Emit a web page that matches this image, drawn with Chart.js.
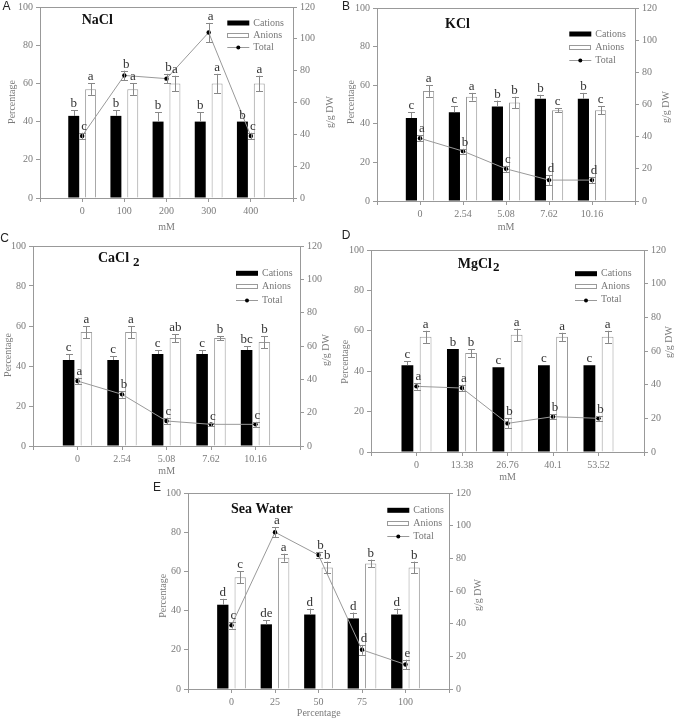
<!DOCTYPE html>
<html><head><meta charset="utf-8">
<script src="https://cdn.jsdelivr.net/npm/chart.js@4.4.1/dist/chart.umd.min.js"></script>
<style>
html,body{margin:0;padding:0;background:#fff;width:674px;height:720px;overflow:hidden;position:relative}
canvas{position:absolute}
</style></head><body>
<script>
// ---------- tick labels ----------
const yTicks = [0, 20, 40, 60, 80, 100];
const y2Ticks = [0, 20, 40, 60, 80, 100, 120];

// ---------- A: NaCl ----------
const naclDoses = ['0', '100', '200', '300', '400'];
const naclCations = [43, 43, 40, 40, 40];
const naclCationsErr = [3, 3, 5, 5, 0];
const naclAnions = [57, 57, 60, 60, 60];
const naclAnionsErr = [3, 3, 4, 5, 4];
const naclTotal = [39, 77, 75, 104, 39];
const naclTotalErr = [2, 3, 3, 6, 2];
const naclCationLetters = ['b', 'b', 'b', 'b', 'b'];
const naclAnionLetters = ['a', 'a', 'a', 'a', 'a'];
const naclTotalLetters = ['c', 'b', 'b', 'a', 'c'];

// ---------- B: KCl ----------
const kclDoses = ['0', '2.54', '5.08', '7.62', '10.16'];
const kclCations = [43, 46, 49, 53, 53];
const kclCationsErr = [3, 3, 3, 2, 3];
const kclAnions = [57, 54, 51, 47, 47];
const kclAnionsErr = [3, 2, 3, 1, 2];
const kclTotal = [39, 31, 20, 13, 13];
const kclTotalErr = [2, 1.5, 2, 3, 2];
const kclCationLetters = ['c', 'c', 'b', 'b', 'b'];
const kclAnionLetters = ['a', 'a', 'b', 'c', 'c'];
const kclTotalLetters = ['a', 'b', 'c', 'd', 'd'];

// ---------- C: CaCl2 ----------
const cacl2Doses = ['0', '2.54', '5.08', '7.62', '10.16'];
const cacl2Cations = [43, 43, 46, 46, 48];
const cacl2CationsErr = [3, 2, 2, 2, 2];
const cacl2Anions = [57, 57, 54, 54, 52];
const cacl2AnionsErr = [3, 3, 2, 1, 3];
const cacl2Total = [39, 31, 15, 13, 13];
const cacl2TotalErr = [2, 2, 2, 1, 1.5];
const cacl2CationLetters = ['c', 'c', 'c', 'c', 'bc'];
const cacl2AnionLetters = ['a', 'a', 'ab', 'b', 'b'];
const cacl2TotalLetters = ['a', 'b', 'c', 'c', 'c'];

// ---------- D: MgCl2 ----------
const mgcl2Doses = ['0', '13.38', '26.76', '40.1', '53.52'];
const mgcl2Cations = [43, 51, 42, 43, 43];
const mgcl2CationsErr = [2, 0, 0, 0, 0];
const mgcl2Anions = [57, 49, 58, 57, 57];
const mgcl2AnionsErr = [3, 2, 3, 2, 3];
const mgcl2Total = [39, 38, 17, 21, 20];
const mgcl2TotalErr = [2, 2, 3, 1.5, 1.5];
const mgcl2CationLetters = ['c', 'b', 'c', 'c', 'c'];
const mgcl2AnionLetters = ['a', 'b', 'a', 'a', 'a'];
const mgcl2TotalLetters = ['a', 'a', 'b', 'b', 'b'];

// ---------- E: Sea Water ----------
const seaDoses = ['0', '25', '50', '75', '100'];
const seaCations = [43, 33, 38, 36, 38];
const seaCationsErr = [3, 2, 3, 3, 3];
const seaAnions = [57, 67, 62, 64, 62];
const seaAnionsErr = [3, 2, 3, 2, 3];
const seaTotal = [39, 96, 82, 24, 15];
const seaTotalErr = [2, 3, 2, 3, 3];
const seaCationLetters = ['d', 'de', 'd', 'd', 'd'];
const seaAnionLetters = ['c', 'a', 'b', 'b', 'b'];
const seaTotalLetters = ['c', 'a', 'b', 'd', 'e'];

// ---------- styling / layout ----------
const SERIF = "'Liberation Serif', 'Times New Roman', serif";
const SANS = "'Liberation Sans', Arial, sans-serif";
const AXIS = '#999999';
const TICK_TXT = '#7a7a7a';
const LEG_TXT = '#777777';
const LETTER = '#333333';
const ERR = '#888888';
const PADL = 45, PADR = 45, PADT = 22, PADB = 40;

const panels = [
  { tag: 'A', name: 'NaCl', sub: '', subGap: 0, xTitle: 'mM', doses: naclDoses,
    cat: naclCations, catErr: naclCationsErr, an: naclAnions, anErr: naclAnionsErr,
    tot: naclTotal, totErr: naclTotalErr, catLet: naclCationLetters, anLet: naclAnionLetters, totLet: naclTotalLetters,
    box: [40, 7, 293, 198], letter: [6.5, 7], title: [81.7, 20], legend: [227.3, 23, 12],
    yTitle: [12, 102], y2Title: [330, 112], xT: [166.5, 227] },
  { tag: 'B', name: 'KCl', sub: '', subGap: 0, xTitle: 'mM', doses: kclDoses,
    cat: kclCations, catErr: kclCationsErr, an: kclAnions, anErr: kclAnionsErr,
    tot: kclTotal, totErr: kclTotalErr, catLet: kclCationLetters, anLet: kclAnionLetters, totLet: kclTotalLetters,
    box: [377, 8, 635, 201], letter: [346, 6.5], title: [445, 24], legend: [569.3, 34, 13],
    yTitle: [351.7, 102], y2Title: [666.7, 107], xT: [506, 227.7] },
  { tag: 'C', name: 'CaCl', sub: '2', subGap: 4, xTitle: 'mM', doses: cacl2Doses,
    cat: cacl2Cations, catErr: cacl2CationsErr, an: cacl2Anions, anErr: cacl2AnionsErr,
    tot: cacl2Total, totErr: cacl2TotalErr, catLet: cacl2CationLetters, anLet: cacl2AnionLetters, totLet: cacl2TotalLetters,
    box: [33, 246, 300, 446], letter: [4.5, 238.7], title: [98, 258.3], legend: [236, 273.3, 13.3],
    yTitle: [8.3, 355], y2Title: [326.7, 350], xT: [166.7, 471] },
  { tag: 'D', name: 'MgCl', sub: '2', subGap: 1, xTitle: 'mM', doses: mgcl2Doses,
    cat: mgcl2Cations, catErr: mgcl2CationsErr, an: mgcl2Anions, anErr: mgcl2AnionsErr,
    tot: mgcl2Total, totErr: mgcl2TotalErr, catLet: mgcl2CationLetters, anLet: mgcl2AnionLetters, totLet: mgcl2TotalLetters,
    box: [371, 250, 644, 452], letter: [346, 236], title: [457.7, 264], legend: [575, 273.7, 13],
    yTitle: [345, 361.7], y2Title: [669, 342], xT: [507.5, 477] },
  { tag: 'E', name: 'Sea Water', sub: '', subGap: 0, xTitle: 'Percentage', doses: seaDoses,
    cat: seaCations, catErr: seaCationsErr, an: seaAnions, anErr: seaAnionsErr,
    tot: seaTotal, totErr: seaTotalErr, catLet: seaCationLetters, anLet: seaAnionLetters, totLet: seaTotalLetters,
    box: [188, 493, 449, 689], letter: [157, 487.5], title: [231, 509], legend: [387.3, 510.3, 13],
    yTitle: [163.3, 595.8], y2Title: [478, 595], xT: [318.8, 713.3] }
];

function pad(arr) { return [null].concat(arr, [null]); }

function makeDecor(p) {
  const ox = p.box[0] - PADL, oy = p.box[1] - PADT;
  const X = v => v - ox, Y = v => v - oy;
  return {
    id: 'decor' + p.tag,
    afterDatasetsDraw(chart) {
      const ctx = chart.ctx;
      const ca = chart.chartArea;
      const ys = chart.scales.y, y2s = chart.scales.y2;
      ctx.save();
      // top frame line
      ctx.strokeStyle = AXIS; ctx.lineWidth = 1;
      ctx.beginPath(); ctx.moveTo(ca.left, Math.round(ca.top) + 0.5); ctx.lineTo(ca.right, Math.round(ca.top) + 0.5); ctx.stroke();

      // error bars and letters
      const series = [
        { idx: 0, vals: p.cat, err: p.catErr, lets: p.catLet, sc: ys, down: false, dx: 0 },
        { idx: 1, vals: p.an, err: p.anErr, lets: p.anLet, sc: ys, down: true, dx: 0 },
        { idx: 2, vals: p.tot, err: p.totErr, lets: p.totLet, sc: y2s, down: true, dx: 2 }
      ];
      series.forEach(s => {
        const meta = chart.getDatasetMeta(s.idx);
        s.vals.forEach((v, j) => {
          const el = meta.data[j + 1];
          if (!el) return;
          const x = el.x;
          const yTop = s.sc.getPixelForValue(v + s.err[j]);
          const yBot = s.down ? s.sc.getPixelForValue(v - s.err[j]) : s.sc.getPixelForValue(v);
          if (s.err[j] > 0) {
            ctx.strokeStyle = ERR; ctx.lineWidth = 1;
            ctx.beginPath();
            const xx = Math.round(x) + 0.5;
            ctx.moveTo(xx, yTop); ctx.lineTo(xx, yBot);
            ctx.moveTo(xx - 3.5, Math.round(yTop) + 0.5); ctx.lineTo(xx + 3.5, Math.round(yTop) + 0.5);
            if (s.down) { ctx.moveTo(xx - 3.5, Math.round(yBot) + 0.5); ctx.lineTo(xx + 3.5, Math.round(yBot) + 0.5); }
            ctx.stroke();
          }
          ctx.fillStyle = LETTER;
          ctx.font = '13px ' + SERIF;
          ctx.textAlign = 'center'; ctx.textBaseline = 'alphabetic';
          ctx.fillText(s.lets[j], x + s.dx, Math.min(yTop, s.sc.getPixelForValue(v)) - 3);
        });
      });

      // legend
      const [lx, ly, ls] = p.legend;
      ctx.fillStyle = '#000';
      ctx.fillRect(X(lx), Y(ly) - 2.5, 22, 5);
      ctx.strokeStyle = '#9a9a9a'; ctx.lineWidth = 1;
      ctx.strokeRect(Math.round(X(lx)) + 0.5, Math.round(Y(ly + ls) - 2.5) + 0.5, 21, 4);
      ctx.strokeStyle = '#999'; ctx.beginPath();
      ctx.moveTo(X(lx), Math.round(Y(ly + 2 * ls)) + 0.5); ctx.lineTo(X(lx) + 22, Math.round(Y(ly + 2 * ls)) + 0.5); ctx.stroke();
      ctx.fillStyle = '#000'; ctx.beginPath(); ctx.arc(X(lx) + 11, Math.round(Y(ly + 2 * ls)) + 0.5, 2, 0, Math.PI * 2); ctx.fill();
      ctx.fillStyle = LEG_TXT; ctx.font = '10px ' + SERIF; ctx.textAlign = 'left'; ctx.textBaseline = 'middle';
      ctx.fillText('Cations', X(lx) + 26, Y(ly));
      ctx.fillText('Anions', X(lx) + 26, Y(ly + ls));
      ctx.fillText('Total', X(lx) + 26, Y(ly + 2 * ls));

      // title
      ctx.fillStyle = '#111'; ctx.font = 'bold 14px ' + SERIF; ctx.textAlign = 'left'; ctx.textBaseline = 'middle';
      ctx.fillText(p.name, X(p.title[0]), Y(p.title[1]));
      if (p.sub) {
        const w = ctx.measureText(p.name).width;
        ctx.font = 'bold 13px ' + SERIF;
        ctx.fillText(p.sub, X(p.title[0]) + w + p.subGap, Y(p.title[1]) + 4);
      }

      // panel letter
      ctx.fillStyle = '#222'; ctx.font = '12px ' + SANS; ctx.textAlign = 'center'; ctx.textBaseline = 'middle';
      ctx.fillText(p.tag, X(p.letter[0]), Y(p.letter[1]));

      // axis titles
      ctx.fillStyle = TICK_TXT; ctx.font = '10px ' + SERIF;
      ctx.fillText(p.xTitle, X(p.xT[0]), Y(p.xT[1]));
      ctx.save(); ctx.translate(X(p.yTitle[0]), Y(p.yTitle[1])); ctx.rotate(-Math.PI / 2);
      ctx.fillText('Percentage', 0, 0); ctx.restore();
      ctx.save(); ctx.translate(X(p.y2Title[0]), Y(p.y2Title[1])); ctx.rotate(-Math.PI / 2);
      ctx.fillText('g/g DW', 0, 0); ctx.restore();

      ctx.restore();
    }
  };
}

function axisCommon() {
  return {
    grid: { display: true, drawOnChartArea: false, drawTicks: true, tickLength: 4, color: AXIS, offset: false },
    border: { display: true, color: AXIS, width: 1 },
    ticks: { color: TICK_TXT, font: { family: SERIF, size: 10 }, padding: 3 }
  };
}

panels.forEach(p => {
  const [L, T, R, B] = p.box;
  const cv = document.createElement('canvas');
  const W = R - L + PADL + PADR, H = B - T + PADT + PADB;
  cv.width = W; cv.height = H;
  cv.style.left = (L - PADL) + 'px'; cv.style.top = (T - PADT) + 'px';
  cv.style.width = W + 'px'; cv.style.height = H + 'px';
  document.body.appendChild(cv);

  const xa = axisCommon();
  const ya = axisCommon();
  const y2a = axisCommon();

  new Chart(cv.getContext('2d'), {
    type: 'bar',
    data: {
      labels: [''].concat(p.doses, ['']),
      datasets: [
        { label: 'Cations', data: pad(p.cat), backgroundColor: '#000', borderWidth: 0, order: 1,
          categoryPercentage: 0.8, barPercentage: 0.65, yAxisID: 'y' },
        { label: 'Anions', data: pad(p.an), backgroundColor: '#fff', borderColor: '#9a9a9a', borderWidth: 1, order: 1,
          categoryPercentage: 0.8, barPercentage: 0.65, yAxisID: 'y' },
        { type: 'line', label: 'Total', data: pad(p.tot), yAxisID: 'y2', order: 0,
          borderColor: '#999', borderWidth: 1, tension: 0, fill: false,
          pointRadius: 2.2, pointBackgroundColor: '#000', pointBorderColor: '#000', pointBorderWidth: 0 }
      ]
    },
    options: {
      responsive: false, animation: false, devicePixelRatio: 1,
      layout: { padding: { top: PADT, left: 0, right: 0, bottom: 0 } },
      plugins: { legend: { display: false }, tooltip: { enabled: false }, title: { display: false } },
      scales: {
        x: Object.assign(xa, { type: 'category', offset: false,
          ticks: Object.assign(xa.ticks, { autoSkip: false, maxRotation: 0, minRotation: 0, padding: 3 }),
          afterFit: s => { s.height = PADB; } }),
        y: Object.assign(ya, { type: 'linear', position: 'left', min: 0, max: 100,
          afterBuildTicks: s => { s.ticks = yTicks.map(v => ({ value: v })); },
          afterFit: s => { s.width = PADL; } }),
        y2: Object.assign(y2a, { type: 'linear', position: 'right', min: 0, max: 120,
          afterBuildTicks: s => { s.ticks = y2Ticks.map(v => ({ value: v })); },
          afterFit: s => { s.width = PADR; } })
      }
    },
    plugins: [makeDecor(p)]
  });
});
</script>
</body></html>
